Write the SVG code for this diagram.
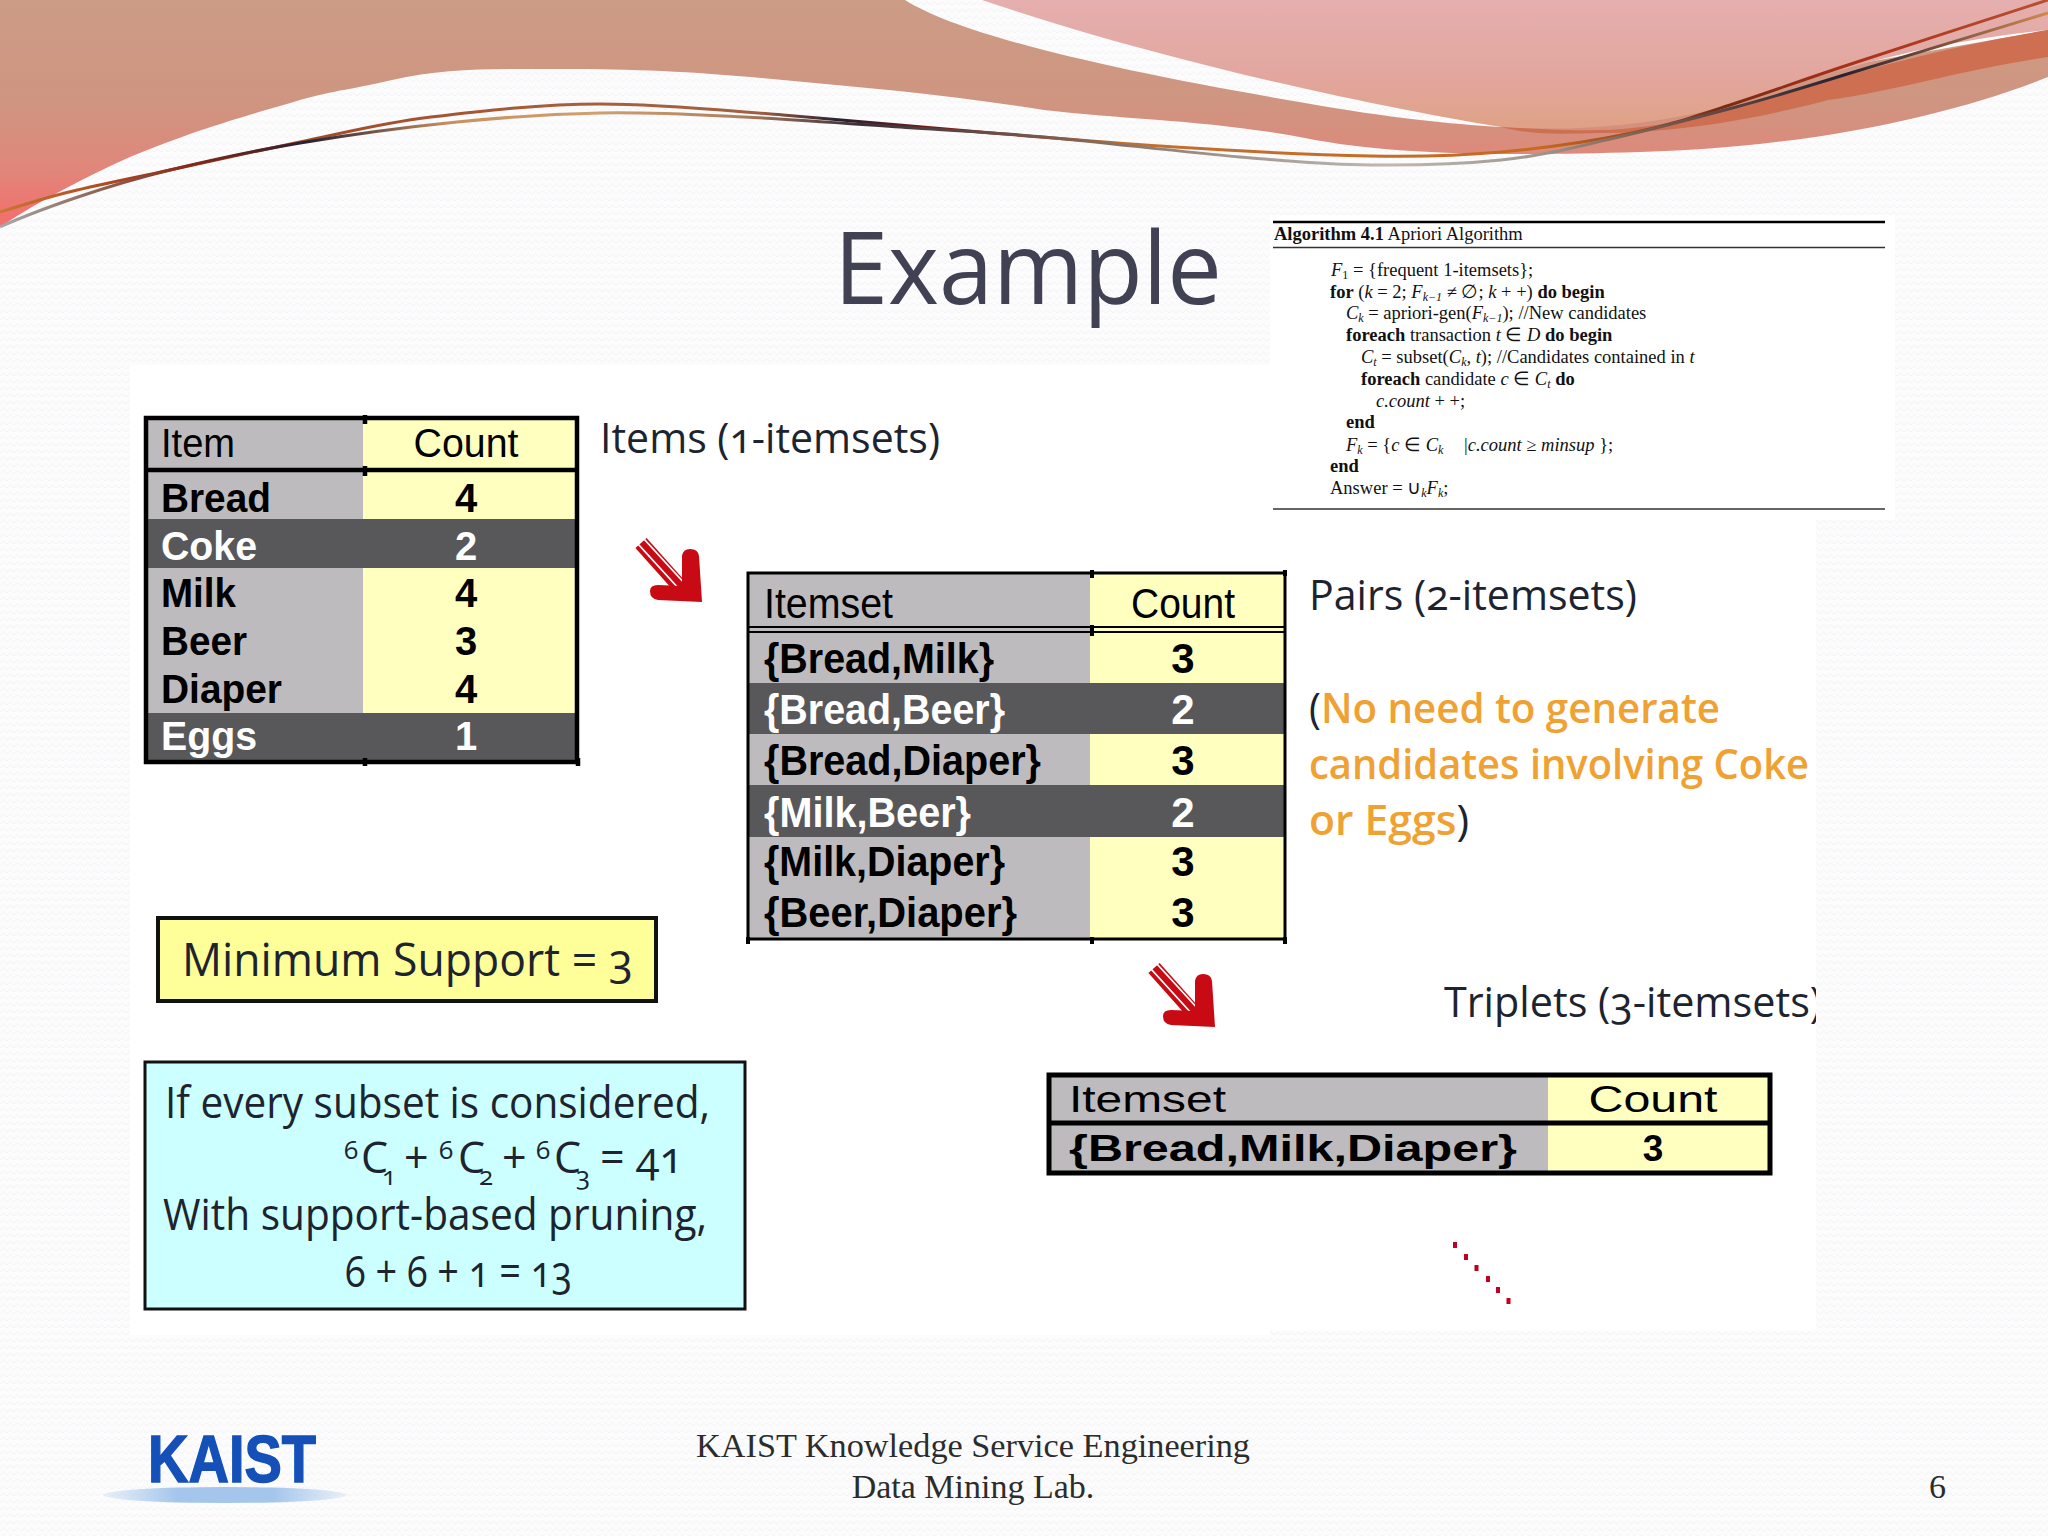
<svg xmlns="http://www.w3.org/2000/svg" xmlns:xlink="http://www.w3.org/1999/xlink" width="2048" height="1536" viewBox="0 0 2048 1536">
<defs>
<pattern id="tex" width="14" height="7" patternUnits="userSpaceOnUse"><path d="M0 5L3.500 2L7 5L10.500 2L14 5" fill="none" stroke="#F3F3F7" stroke-width="1"/></pattern>
<linearGradient id="tan" x1="0" y1="0" x2="0" y2="1"><stop offset="0" stop-color="#CC9C86"/><stop offset=".45" stop-color="#CF9580"/><stop offset=".75" stop-color="#E1867A"/><stop offset="1" stop-color="#F66C6C"/></linearGradient>
<linearGradient id="pink" x1="0" y1="0" x2="0" y2="1"><stop offset="0" stop-color="#E5AFAF"/><stop offset=".6" stop-color="#E2A69E"/><stop offset="1" stop-color="#DFA285"/></linearGradient>
<linearGradient id="l1" gradientUnits="userSpaceOnUse" x1="0" y1="0" x2="2048" y2="0"><stop offset="0" stop-color="#C87830"/><stop offset=".08" stop-color="#A03018"/><stop offset=".14" stop-color="#A04A28"/><stop offset=".29" stop-color="#A8603C"/><stop offset=".37" stop-color="#A06040"/><stop offset=".41" stop-color="#2A2030"/><stop offset=".47" stop-color="#8A1C10"/><stop offset=".55" stop-color="#C07030"/><stop offset=".75" stop-color="#C86A20"/><stop offset=".84" stop-color="#7A2A14"/><stop offset=".9" stop-color="#A83018"/><stop offset="1" stop-color="#B85030"/></linearGradient>
<linearGradient id="l2" gradientUnits="userSpaceOnUse" x1="0" y1="0" x2="2048" y2="0"><stop offset="0" stop-color="#A8A8A8"/><stop offset=".04" stop-color="#907060"/><stop offset=".09" stop-color="#8A2A18"/><stop offset=".15" stop-color="#2A2030"/><stop offset=".22" stop-color="#C89060"/><stop offset=".29" stop-color="#D0A070"/><stop offset=".36" stop-color="#B08060"/><stop offset=".42" stop-color="#3A2E38"/><stop offset=".52" stop-color="#806050"/><stop offset=".6" stop-color="#A09890"/><stop offset=".68" stop-color="#C0B8B0"/><stop offset=".75" stop-color="#A09890"/><stop offset=".8" stop-color="#806050"/><stop offset=".9" stop-color="#2A2030"/><stop offset="1" stop-color="#D08850"/></linearGradient>
<linearGradient id="ell" x1="0" y1="0" x2="1" y2="0"><stop offset="0" stop-color="#A8C8EE" stop-opacity=".2"/><stop offset=".3" stop-color="#A4C6EC"/><stop offset=".7" stop-color="#A4C6EC"/><stop offset="1" stop-color="#A8C8EE" stop-opacity=".2"/></linearGradient>
<clipPath id="clipTrip"><rect x="1400" y="960" width="416" height="100"/></clipPath>
<g id="arrow">
<path d="M641 543L683 590" stroke="#C80A14" stroke-width="15" fill="none"/>
<path d="M638 544L680 590M644 539L686 585" stroke="#fff" stroke-width="1.800" fill="none"/>
<path d="M682 586L682 556Q683 549 690 549Q698 549 699 556L702 602L658 600Q650 599 650 591Q650 585 658 585Z" fill="#C80A14"/>
</g>
</defs>
<style>
.sans{font-family:"Liberation Sans",Arial,sans-serif}
.b{font-weight:700}
.w{fill:#fff}
.k{fill:#000}
.c{text-anchor:middle}
.cb{font-family:"Open Sans","Noto Sans",sans-serif;fill:#1d2430;font-variant-numeric:oldstyle-nums}
.or{fill:#EFA233;font-weight:600}
.al{font-family:"Liberation Serif","Times New Roman",serif;font-size:18.5px;fill:#111}
.al tspan.i{font-style:italic}
.al tspan.bb{font-weight:700}
.al tspan.s{font-size:12px;font-style:italic}
.ft{font-family:"Liberation Serif","Times New Roman",serif;font-size:34px;fill:#2c2c2c}
.bd{stroke:#000;fill:none}
.gr{fill:#BDBBBD}.ye{fill:#FFFFC0}.dk{fill:#58585A}
</style>
<rect width="2048" height="1536" fill="#FCFCFD"/>
<rect width="2048" height="1536" fill="url(#tex)"/>
<rect x="130" y="365" width="1140" height="970" fill="#fff"/>
<rect x="1270" y="215" width="625" height="305" fill="#fff"/>
<rect x="1270" y="520" width="546" height="810" fill="#fff"/>

<g id="header-swoosh">
<path fill="url(#tan)" d="M0 0H905C960 35 1110 70 1305 103C1390 118 1450 124 1501 127L2048 30V77C1960 112 1820 147 1640 152C1500 156 1390 155 1305 138C1210 120 1130 120 1044 110C950 95 870 88 783 80C700 72 640 69 561 69C490 69 445 68 392 80C355 89 335 90 300 100C250 115 200 128 130 157C90 175 40 200 0 227Z"/>
<path fill="url(#pink)" d="M982 0H2048V30C1950 40 1860 60 1736 103C1660 125 1580 132 1501 127C1400 110 1190 70 982 0Z"/>
<path fill="#CD6F50" d="M1501 127C1560 130 1600 132 1632 128C1670 124 1700 118 1736 107C1800 88 1860 72 1893 63C1950 48 2000 38 2048 30V57C1960 70 1900 90 1828 100C1760 118 1680 133 1600 133C1560 134 1530 135 1501 127Z"/>
<path fill="none" stroke="url(#l1)" stroke-width="3" d="M0 212C11 209 37 200 65 193C93 186 131 178.500 170 170C209 161.500 256.500 151 300 142C343.500 133 381 123 431 117C481 111 541 104 600 104C659 104 718 110 783 115C848 120 927 128 992 133C1057 138 1112 143 1175 147C1238 151 1317 155 1371 156C1425 157 1457 156 1501 152C1545 148 1593 141 1632 133C1671 125 1699 115 1736 103C1773 91 1802 80 1854 63C1906 46 2016 10 2048 0"/>
<path fill="none" stroke="url(#l2)" stroke-width="3" d="M0 227C13 221 50 206.500 78 197C106 187.500 133 179 170 170C207 161 252 151 300 143C348 135 407 127 457 122C507 117 552 114 600 113C648 112 692 114.500 744 117C796 119.500 864 124.700 914 128C964 131.300 990 132.200 1044 137C1098 141.800 1185.500 152.300 1240 157C1294.500 161.700 1327.500 164.500 1371 165C1414.500 165.500 1462 164 1501 160C1540 156 1567 149 1606 140C1645 131 1695 118 1736 107C1777 96 1802 88 1854 72C1906 56 2016 23 2048 13"/>
</g>

<g id="title"><text x="834" y="304" font-family="Open Sans,Noto Sans,sans-serif" font-size="100" fill="#404254" textLength="388" lengthAdjust="spacingAndGlyphs">Example</text></g>

<g id="algorithm">
<path d="M1273 222H1885" stroke="#000" stroke-width="2.500"/><path d="M1273 247.500H1885" stroke="#333" stroke-width="1.500"/><path d="M1273 509H1885" stroke="#333" stroke-width="1.500"/>
<text class="al" x="1274" y="240"><tspan class="bb">Algorithm 4.1</tspan> Apriori Algorithm</text>
<text class="al" x="1331" y="276"><tspan class="i">F</tspan><tspan font-size="12" dy="3">1</tspan><tspan dy="-3"> = {frequent 1-itemsets};</tspan></text>
<text class="al" x="1330" y="298"><tspan class="bb">for</tspan> (<tspan class="i">k</tspan> = 2; <tspan class="i">F</tspan><tspan class="s" dy="3">k−1</tspan><tspan dy="-3"> ≠ ∅; </tspan><tspan class="i">k</tspan> + +) <tspan class="bb">do begin</tspan></text>
<text class="al" x="1346" y="319"><tspan class="i">C</tspan><tspan class="s" dy="3">k</tspan><tspan dy="-3"> = apriori-gen(</tspan><tspan class="i">F</tspan><tspan class="s" dy="3">k−1</tspan><tspan dy="-3">); //New candidates</tspan></text>
<text class="al" x="1346" y="341"><tspan class="bb">foreach</tspan> transaction <tspan class="i">t</tspan> ∈ <tspan class="i">D</tspan> <tspan class="bb">do begin</tspan></text>
<text class="al" x="1361" y="363"><tspan class="i">C</tspan><tspan class="s" dy="3">t</tspan><tspan dy="-3"> = subset(</tspan><tspan class="i">C</tspan><tspan class="s" dy="3">k</tspan><tspan dy="-3">, </tspan><tspan class="i">t</tspan>); //Candidates contained in <tspan class="i">t</tspan></text>
<text class="al" x="1361" y="385"><tspan class="bb">foreach</tspan> candidate <tspan class="i">c</tspan> ∈ <tspan class="i">C</tspan><tspan class="s" dy="3">t</tspan><tspan dy="-3"> </tspan><tspan class="bb">do</tspan></text>
<text class="al" x="1376" y="407"><tspan class="i">c.count</tspan> + +;</text>
<text class="al b" x="1346" y="428">end</text>
<text class="al" x="1346" y="451"><tspan class="i">F</tspan><tspan class="s" dy="3">k</tspan><tspan dy="-3"> = {</tspan><tspan class="i">c</tspan> ∈ <tspan class="i">C</tspan><tspan class="s" dy="3">k</tspan><tspan x="1464" dy="-3">|</tspan><tspan class="i">c.count</tspan> ≥ <tspan class="i">minsup</tspan> };</text>
<text class="al b" x="1330" y="472">end</text>
<text class="al" x="1330" y="494">Answer = ∪<tspan class="s" dy="3">k</tspan><tspan dy="-3" class="i">F</tspan><tspan class="s" dy="3">k</tspan><tspan dy="-3">;</tspan></text>
</g>

<g id="table-items" class="sans" font-size="40">
<rect class="gr" x="146" y="418" width="217" height="344"/><rect class="ye" x="363" y="418" width="214" height="344"/>
<rect class="dk" x="146" y="519" width="431" height="49"/><rect class="dk" x="146" y="713" width="431" height="47"/>
<path class="bd" stroke-width="4.500" d="M146 418H577V762H146ZM146 470H577"/>
<path class="bd" stroke-width="4.500" d="M365 415V424M365 466V476M365 758V766M578 758V766"/>
<text class="k" x="161" y="457" textLength="74" lengthAdjust="spacingAndGlyphs">Item</text>
<text class="k c" x="466" y="457" textLength="105" lengthAdjust="spacingAndGlyphs">Count</text>
<g class="b">
<text class="k" x="161" y="512" textLength="110" lengthAdjust="spacingAndGlyphs">Bread</text><text class="k c" x="466" y="512">4</text>
<text class="w" x="161" y="560" textLength="96" lengthAdjust="spacingAndGlyphs">Coke</text><text class="w c" x="466" y="560">2</text>
<text class="k" x="161" y="607" textLength="75" lengthAdjust="spacingAndGlyphs">Milk</text><text class="k c" x="466" y="607">4</text>
<text class="k" x="161" y="655" textLength="86" lengthAdjust="spacingAndGlyphs">Beer</text><text class="k c" x="466" y="655">3</text>
<text class="k" x="161" y="703" textLength="121" lengthAdjust="spacingAndGlyphs">Diaper</text><text class="k c" x="466" y="703">4</text>
<text class="w" x="161" y="750" textLength="96" lengthAdjust="spacingAndGlyphs">Eggs</text><text class="w c" x="466" y="750">1</text>
</g></g>

<g id="label-items"><text class="cb" x="600" y="453" font-size="42" textLength="340" lengthAdjust="spacingAndGlyphs">Items (1-itemsets)</text></g>

<g id="table-pairs" class="sans" font-size="42">
<rect class="gr" x="748" y="573" width="342" height="366"/><rect class="ye" x="1090" y="573" width="195" height="366"/>
<rect class="dk" x="748" y="683" width="537" height="51"/><rect class="dk" x="748" y="785" width="537" height="52"/>
<path class="bd" stroke-width="3" d="M748 573H1285V939H748Z"/><path class="bd" stroke-width="2" d="M748 627H1285M748 632H1285"/>
<path class="bd" stroke-width="4" d="M1092 570V578M1092 625V636M1092 937V944M748 937V944M1285 937V944M1285 570V576"/>
<text class="k" x="764" y="618" textLength="129" lengthAdjust="spacingAndGlyphs">Itemset</text>
<text class="k c" x="1183" y="618" textLength="104" lengthAdjust="spacingAndGlyphs">Count</text>
<g class="b">
<text class="k" x="764" y="673" textLength="230" lengthAdjust="spacingAndGlyphs">{Bread,Milk}</text><text class="k c" x="1183" y="673">3</text>
<text class="w" x="764" y="724" textLength="241" lengthAdjust="spacingAndGlyphs">{Bread,Beer}</text><text class="w c" x="1183" y="724">2</text>
<text class="k" x="764" y="775" textLength="277" lengthAdjust="spacingAndGlyphs">{Bread,Diaper}</text><text class="k c" x="1183" y="775">3</text>
<text class="w" x="764" y="827" textLength="207" lengthAdjust="spacingAndGlyphs">{Milk,Beer}</text><text class="w c" x="1183" y="827">2</text>
<text class="k" x="764" y="876" textLength="241" lengthAdjust="spacingAndGlyphs">{Milk,Diaper}</text><text class="k c" x="1183" y="876">3</text>
<text class="k" x="764" y="927" textLength="253" lengthAdjust="spacingAndGlyphs">{Beer,Diaper}</text><text class="k c" x="1183" y="927">3</text>
</g></g>

<g id="label-pairs"><text class="cb" x="1309" y="610" font-size="42" textLength="328" lengthAdjust="spacingAndGlyphs">Pairs (2-itemsets)</text></g>
<g id="note-pairs" font-size="42">
<text class="cb" x="1309" y="723" textLength="411" lengthAdjust="spacingAndGlyphs">(<tspan class="or">No need to generate</tspan></text>
<text class="cb or" x="1309" y="779" textLength="500" lengthAdjust="spacingAndGlyphs">candidates involving Coke</text>
<text class="cb" x="1309" y="835" textLength="160" lengthAdjust="spacingAndGlyphs"><tspan class="or">or Eggs</tspan>)</text>
</g>

<g id="label-triplets"><text class="cb" x="1444" y="1017" font-size="42" textLength="378" lengthAdjust="spacingAndGlyphs" clip-path="url(#clipTrip)">Triplets (3-itemsets)</text></g>

<g id="table-triplets" class="sans" font-size="37">
<rect class="gr" x="1049" y="1074" width="499" height="99"/><rect class="ye" x="1548" y="1074" width="222" height="99"/>
<path class="bd" stroke-width="5" d="M1049 1075H1770V1173H1049ZM1049 1123H1770"/>
<text class="k" x="1069" y="1112" textLength="157" lengthAdjust="spacingAndGlyphs">Itemset</text>
<text class="k c" x="1653" y="1112" textLength="129" lengthAdjust="spacingAndGlyphs">Count</text>
<text class="k b" x="1069" y="1161" textLength="448" lengthAdjust="spacingAndGlyphs">{Bread,Milk,Diaper}</text>
<text class="k b c" x="1653" y="1161">3</text>
</g>

<g id="box-minsup">
<rect x="158" y="918" width="498" height="83" fill="#FFFF99" stroke="#111" stroke-width="4"/>
<text class="cb" x="182" y="976" font-size="46" textLength="451" lengthAdjust="spacingAndGlyphs">Minimum Support = 3</text>
</g>

<g id="box-count" class="cb" font-size="43">
<rect x="145" y="1062" width="600" height="247" fill="#CCFFFF" stroke="#111" stroke-width="3"/>
<text x="165" y="1118" textLength="545" lengthAdjust="spacingAndGlyphs">If every subset is considered,</text>
<text font-variant-numeric="lining-nums"><tspan x="344" y="1159" font-size="26">6</tspan><tspan x="361" y="1173">C</tspan><tspan x="382" y="1185" font-size="26">1</tspan><tspan x="404" y="1173">+</tspan><tspan x="439" y="1159" font-size="26">6</tspan><tspan x="458" y="1173">C</tspan><tspan x="479" y="1185" font-size="26">2</tspan><tspan x="502" y="1173">+</tspan><tspan x="536" y="1159" font-size="26">6</tspan><tspan x="554" y="1173">C</tspan><tspan x="576" y="1185" font-size="26">3</tspan><tspan x="600" y="1173">=</tspan><tspan x="636" y="1173">41</tspan></text>
<text x="163" y="1230" textLength="544" lengthAdjust="spacingAndGlyphs">With support-based pruning,</text>
<text x="345" y="1287" textLength="227" lengthAdjust="spacingAndGlyphs">6 + 6 + 1 = 13</text>
</g>

<g id="connectors">
<use href="#arrow" xlink:href="#arrow"/>
<use href="#arrow" xlink:href="#arrow" transform="translate(513 425)"/>
<path d="M1453 1242h4v6h-4zM1464 1254h4v6h-4zM1474.500 1265h4v6h-4zM1486 1276h4v6h-4zM1496 1287h4v6h-4zM1506.500 1298h4v6h-4z" fill="#C00020"/>
</g>

<g id="logo">
<ellipse cx="225" cy="1495" rx="122" ry="8" fill="url(#ell)"/>
<text class="sans b" x="148" y="1482" font-size="67" fill="#1450B8" stroke="#1450B8" stroke-width="1.500" textLength="168" lengthAdjust="spacingAndGlyphs">KAIST</text>
</g>

<g id="footer">
<text class="ft c" x="973" y="1457" textLength="554" lengthAdjust="spacingAndGlyphs">KAIST Knowledge Service Engineering</text>
<text class="ft c" x="973" y="1498">Data Mining Lab.</text>
<text class="ft" x="1929" y="1498">6</text>
</g>
</svg>
